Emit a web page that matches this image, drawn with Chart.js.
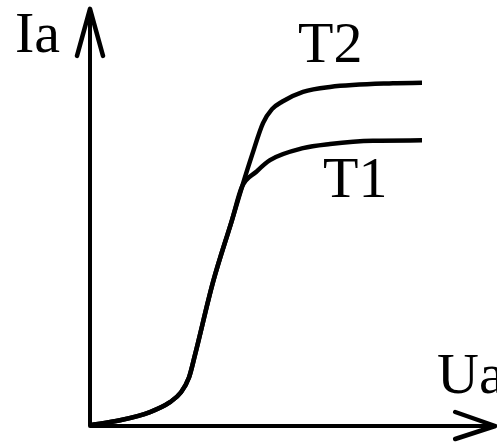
<!DOCTYPE html>
<html>
<head>
<meta charset="utf-8">
<script src="https://cdn.jsdelivr.net/npm/chart.js@4"></script>
<style>
html,body{margin:0;padding:0;background:#fff;}
#wrap{width:497px;height:442px;}
</style>
</head>
<body>
<div id="wrap"><canvas id="c" width="497" height="442"></canvas></div>
<script>
// Shared rising part (Ua, Ia)
const riseUa = [0, 7.5, 15, 20, 22.75, 24.75, 26.25, 30.75, 35.5, 38];
const riseIa = [0.2, 1.4, 3.4, 5.8, 8.2, 11.8, 17.3, 35, 50.1, 58.2];
// T1 saturation branch
const t1Ua = [41.5, 45, 53.25, 60, 70.75, 83];
const t1Ia = [61.8, 64.7, 67.6, 68.6, 69.4, 69.5];
// T2 saturation branch
const t2Ua = [40.5, 43.25, 45.5, 48, 53.25, 60, 75.75, 83];
const t2Ia = [65.9, 73.7, 77.1, 78.9, 81.3, 82.5, 83.4, 83.5];
// Text labels: [text, Ua, Ia]
const labelTexts = ["Ia", "T2", "T1", "Ua"];
const labelUa = [-18.75, 52, 58.25, 86.75];
const labelIa = [91, 88.6, 55.7, 8];
// Axis arrow tip extents (data units)
const axisEndUa = 101.3;
const axisEndIa = 101.5;

function pts(xs, ys){ return xs.map((x,i)=>({x:x, y:ys[i]})); }

const axesPlugin = {
  id: 'axesArrows',
  afterDatasetsDraw(chart){
    const ctx = chart.ctx;
    const xs = chart.scales.x, ys = chart.scales.y;
    const x0 = xs.getPixelForValue(0), y0 = ys.getPixelForValue(0);
    const xTip = xs.getPixelForValue(axisEndUa), yTip = ys.getPixelForValue(axisEndIa);
    ctx.save();
    ctx.strokeStyle = '#000';
    ctx.lineWidth = 4;
    ctx.lineCap = 'round';
    ctx.lineJoin = 'round';
    ctx.beginPath();
    ctx.moveTo(x0, y0); ctx.lineTo(x0, yTip + 2);
    ctx.moveTo(x0, y0); ctx.lineTo(xTip - 2, y0);
    ctx.stroke();
    // arrow heads (open)
    ctx.lineWidth = 4.5;
    ctx.beginPath();
    ctx.moveTo(x0 - 13, yTip + 47); ctx.lineTo(x0, yTip); ctx.lineTo(x0 + 13, yTip + 47);
    ctx.moveTo(xTip - 40, y0 - 14); ctx.lineTo(xTip, y0); ctx.lineTo(xTip - 40, y0 + 13);
    ctx.stroke();
    // labels
    ctx.fillStyle = '#000';
    ctx.font = '58px "Liberation Serif", "Times New Roman", serif';
    ctx.textBaseline = 'alphabetic';
    ctx.textAlign = 'left';
    labelTexts.forEach((t,i)=>{
      ctx.fillText(t, xs.getPixelForValue(labelUa[i]), ys.getPixelForValue(labelIa[i]));
    });
    ctx.restore();
  }
};

new Chart(document.getElementById('c'), {
  type: 'line',
  data: {
    datasets: [
      { label: 'T1', data: pts(riseUa.concat(t1Ua), riseIa.concat(t1Ia)) },
      { label: 'T2', data: pts(riseUa.concat(t2Ua), riseIa.concat(t2Ia)) }
    ].map(d => Object.assign(d, {
      borderColor: '#000', borderWidth: 4.5, pointRadius: 0, fill: false,
      cubicInterpolationMode: 'monotone', clip: false
    }))
  },
  options: {
    responsive: false,
    animation: false,
    layout: { padding: { left: 90, right: 7, top: 15, bottom: 16 } },
    plugins: { legend: { display: false }, tooltip: { enabled: false } },
    scales: {
      x: { type: 'linear', min: 0, max: 100, display: false },
      y: { type: 'linear', min: 0, max: 100, display: false }
    }
  },
  plugins: [axesPlugin]
});
</script>
</body>
</html>
